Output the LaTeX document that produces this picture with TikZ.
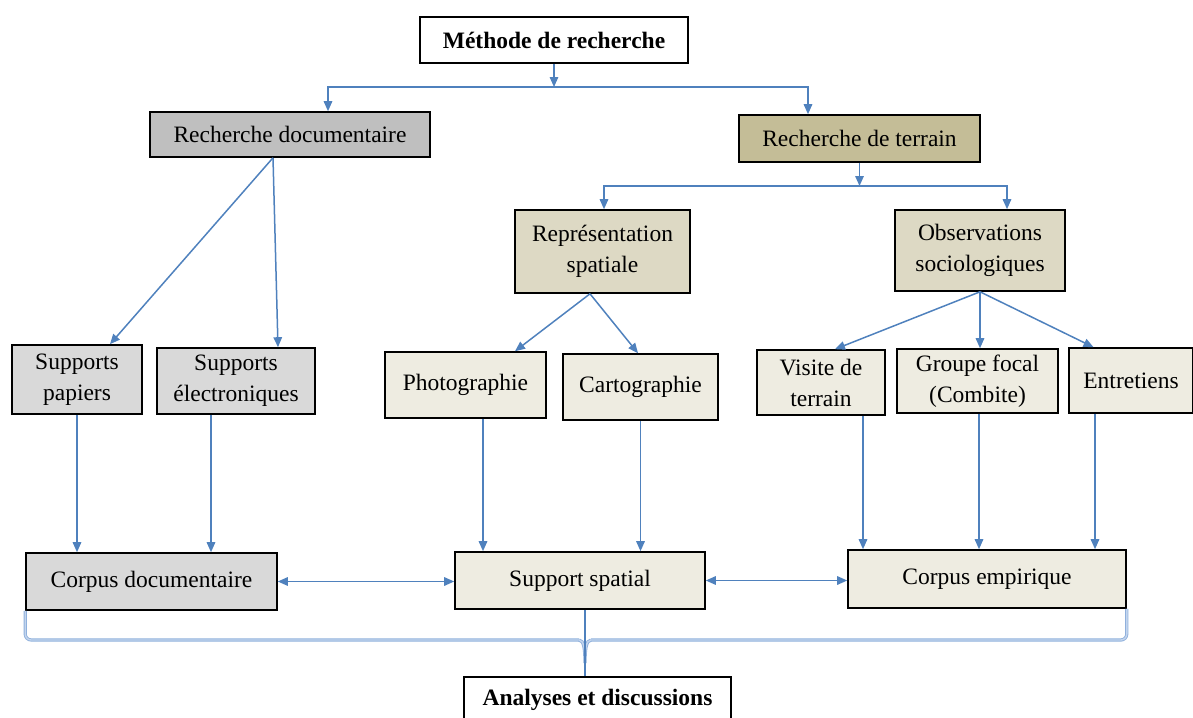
\documentclass[tikz,border=0pt]{standalone}
\usepackage{fontspec}
\setmainfont{Liberation Serif}
\usetikzlibrary{arrows.meta}
\definecolor{gris}{HTML}{BFBFBF}
\definecolor{grisclair}{HTML}{D9D9D9}
\definecolor{kaki}{HTML}{C4BD97}
\definecolor{kakiclair}{HTML}{DDD9C4}
\definecolor{beige}{HTML}{EEECE1}
\definecolor{bleu}{HTML}{4F81BD}
\definecolor{bleuclair}{HTML}{8FB0DC}
\definecolor{bleupale}{HTML}{C3D5EE}
\begin{document}
\begin{tikzpicture}
[x=1pt,y=-1pt,%
  every node/.style={shape=rectangle,draw,line width=1.6pt,inner sep=0pt,align=center,
    font=\fontsize{23.5}{31}\selectfont},%
  taille/.style 2 args={minimum width=#1pt,minimum height=#2pt},%
  gras/.style={font=\fontsize{23.5}{31}\selectfont\bfseries},%
  lien/.style={draw=bleu,line width=1.5pt,-{Triangle[length=10pt,width=8.5pt]}},%
  lienbi/.style={lien,{Triangle[length=10pt,width=8.5pt]}-{Triangle[length=10pt,width=8.5pt]}},%
  accolade/.style={draw=bleuclair,line width=0.9pt,double=bleupale,double distance=1.4pt}]
\useasboundingbox (0,0) rectangle (1193,717);
% niveau 1
\node[taille={268}{46},fill=white,gras] (meth) at (554,40) {Méthode de recherche};
\node[taille={280}{45},fill=gris] (rdoc) at (290,134.5) {Recherche documentaire};
\node[taille={241}{47},fill=kaki] (rter) at (859.5,138.5) {Recherche de terrain};
\node[taille={175}{83},fill=kakiclair] (rep) at (602.5,251.5) {Représentation\\spatiale};
\node[taille={170}{81},fill=kakiclair] (obs) at (980,250.5) {Observations\\sociologiques};
% niveau 2
\node[taille={130}{69},fill=grisclair] (spap) at (77,379.5) {Supports\\papiers};
\node[taille={158}{66},fill=grisclair] (selec) at (236,381) {Supports\\électroniques};
\node[taille={161}{66},fill=beige] (photo) at (465.5,385) {Photographie};
\node[taille={155}{66},fill=beige] (carto) at (640.5,387) {Cartographie};
\node[taille={128}{65},fill=beige] (visite) at (821,382.5) {Visite de\\terrain};
\node[taille={161}{64},fill=beige] (groupe) at (977.5,381) {Groupe focal\\(Combite)};
\node[taille={124}{65},fill=beige] (entr) at (1131,380.5) {Entretiens};
% niveau 3
\node[taille={251}{57},fill=grisclair] (cdoc) at (151.5,581.5) {Corpus documentaire};
\node[taille={250}{57},fill=beige] (sspa) at (580,580.5) {Support spatial};
\node[taille={278}{58},fill=beige] (cemp) at (987,579) {Corpus empirique};
\node[taille={267}{46},fill=white,gras] (anal) at (597.5,700) {Analyses et discussions};
% liens
\coordinate (f1) at (554,87);
\coordinate (f2) at (859.5,186);
\coordinate (pointe) at (585,663);
\draw[lien] (meth) -- (f1);
\draw[lien] (f1) -| ([xshift=38pt]rdoc.north);
\draw[lien] (f1) -| ([xshift=-51.5pt]rter.north);
\draw[lien] (rter) -- (f2);
\draw[lien] (f2) -| ([xshift=1.5pt]rep.north);
\draw[lien] (f2) -| ([xshift=27pt]obs.north);
\draw[lien] ([xshift=-17pt]rdoc.south) -- ([xshift=33pt]spap.north);
\draw[lien] ([xshift=-17pt]rdoc.south) -- ([xshift=42pt]selec.north);
\draw[lien] ([xshift=-12.5pt]rep.south) -- ([xshift=49.5pt]photo.north);
\draw[lien] ([xshift=-12.5pt]rep.south) -- ([xshift=-2.5pt]carto.north);
\draw[lien] (obs.south) -- ([xshift=14pt]visite.north);
\draw[lien] (obs.south) -- ([xshift=2.5pt]groupe.north);
\draw[lien] (obs.south) -- ([xshift=-37.5pt]entr.north);
\foreach \haut/\bas/\dx in {spap/cdoc/0,selec/cdoc/-25,photo/sspa/17.5,carto/sspa/0,
    visite/cemp/42,groupe/cemp/1.5,entr/cemp/-36}
  \draw[lien] ([xshift=\dx pt]\haut.south) -- ([xshift=\dx pt]\haut.south |- \bas.north);
\draw[lienbi] (cdoc.east) -- (cdoc.east -| sspa.west);
\draw[lienbi] (sspa.east) -- (sspa.east -| cemp.west);
% accolade
\draw[accolade,rounded corners=6pt] (cdoc.south west) -- (cdoc.south west |- 0,640) -- (579,640);
\draw[accolade] (579,640) .. controls (584,640) and (585,650) .. (pointe)
  .. controls (585,650) and (586,640) .. (591,640);
\draw[accolade,rounded corners=6pt] (591,640) -- (cemp.south east |- 0,640) -- (cemp.south east);
\draw[draw=bleu,line width=1.5pt] (sspa.south -| pointe) -- (anal.north -| pointe);
\end{tikzpicture}
\end{document}
